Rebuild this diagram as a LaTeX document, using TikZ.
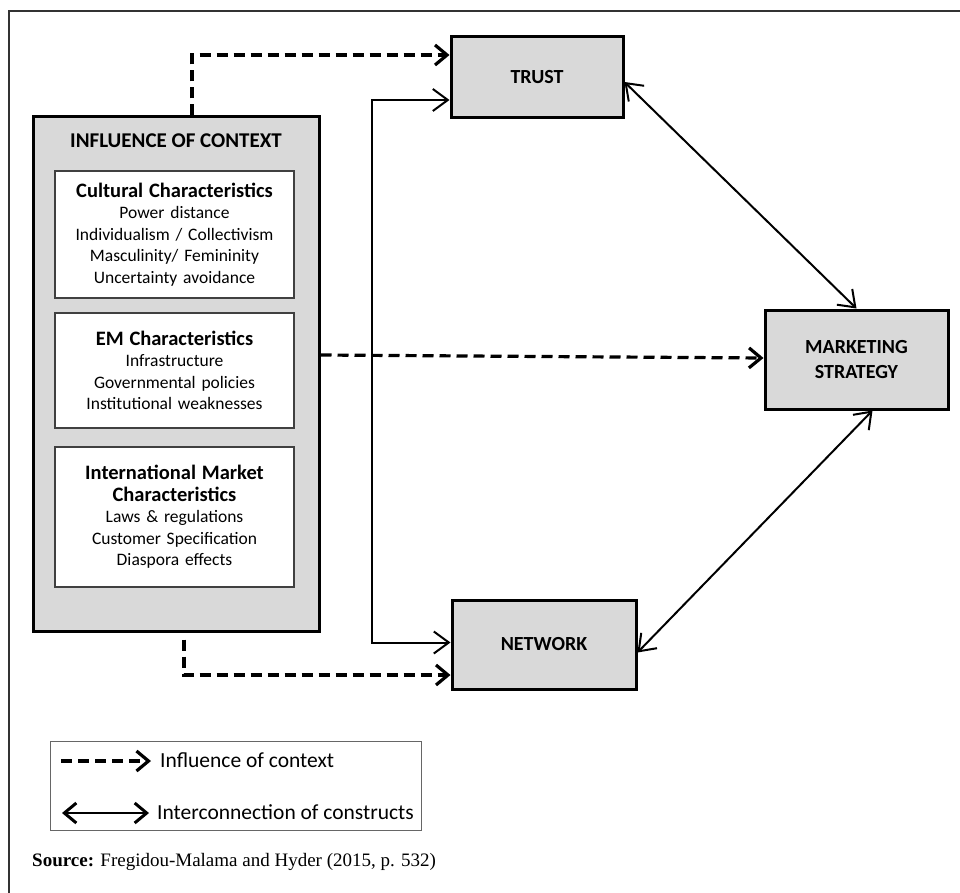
\documentclass[tikz,border=0pt]{standalone}
\usepackage{fontspec}
\setmainfont{Carlito}
\newfontfamily\srcfont{Liberation Serif}
\usetikzlibrary{arrows.meta}
\definecolor{boxgray}{HTML}{D9D9D9}
\definecolor{framegray}{HTML}{333333}

\begin{document}
\begin{tikzpicture}[x=1pt,y=-1pt,
  construct/.style={draw,line width=3pt,fill=boxgray,inner sep=0pt,align=center,font=\fontsize{20}{25}\selectfont\bfseries},
  inbox/.style={draw=black!75,line width=1.2pt,fill=white,inner sep=2pt,text width=235pt,align=center,font=\fontsize{17.5}{21.5}\selectfont},
  heading/.style={font=\fontsize{20.5}{24}\selectfont\bfseries},
  influence/.style={line width=3.2pt,dash pattern=on 11pt off 6pt,-{Straight Barb[length=12pt,width=20pt,line width=3.2pt]}},
  interlink/.style={line width=2pt,{Straight Barb[length=15pt,width=22pt,line width=2pt]}-{Straight Barb[length=15pt,width=22pt,line width=2pt]}},
  legendtext/.style={anchor=west,inner sep=0pt,font=\fontsize{21.5}{24}\selectfont}]
    \useasboundingbox (0,0) rectangle (960,893);
    \draw[framegray,line width=2.5pt] (960,11) -- (9,11) -- (9,893);
    % context box
    \node[construct,minimum width=286pt,minimum height=514pt] (ctx) at (176,374) {};
    \node[heading,font=\fontsize{21}{24}\selectfont\bfseries] (ctxtitle) at (176,141) {INFLUENCE OF CONTEXT};
    \node[inbox,minimum height=127pt] (cult) at (174.5,234.5) {{\fontsize{20.5}{22}\selectfont\bfseries Cultural Characteristics}\\ Power distance\\ Individualism / Collectivism\\ Masculinity/ Femininity\\ Uncertainty avoidance};
    \node[inbox,minimum height=115pt] (em) at (174.5,370.5) {{\fontsize{20.5}{22}\selectfont\bfseries EM Characteristics}\\ Infrastructure\\ Governmental policies\\ Institutional weaknesses\\[4pt]};
    \node[inbox,minimum height=140pt] (intl) at (174.5,517) {{\fontsize{20.5}{26}\selectfont\bfseries International Market\\ Characteristics}\\ Laws \& regulations\\ Customer Specification\\ Diaspora effects};
    % constructs
    \node[construct,minimum width=172pt,minimum height=81pt] (trust) at (537,77.5) {TRUST};
    \node[construct,minimum width=183pt,minimum height=99pt] (mkt) at (856.5,359.5) {MARKETING\\STRATEGY};
    \node[construct,minimum width=184pt,minimum height=89pt] (net) at (544,644.5) {NETWORK};
    \coordinate (bus) at (372,370);
    % influence of context
    \draw[influence] ([xshift=16pt]ctx.north) |- ([yshift=22.5pt]trust.west);
    \draw[influence] ([yshift=19pt]ctx.east) -- ([yshift=1.5pt]mkt.west);
    \draw[influence] ([xshift=8pt,yshift=-7pt]ctx.south) |- ([yshift=-30.5pt]net.west);
    % interconnections
    \draw[interlink] ([yshift=-22.5pt]trust.west) -| (bus) |- ([yshift=2pt]net.west);
    \draw[interlink] ([yshift=-4.5pt]trust.east) -- (mkt.north);
    \draw[interlink] ([xshift=16pt]mkt.south) -- ([yshift=-8pt]net.east);
    % legend
    \node[draw=black!60,line width=1pt,minimum width=371pt,minimum height=89pt] (legend) at (235.5,785.5) {};
    \coordinate (dashA) at (61,761);
    \coordinate (dashB) at (151,761);
    \coordinate (twoA) at (62,813);
    \coordinate (twoB) at (149,813);
    \draw[influence,line width=3.8pt] (dashA) -- (dashB);
    \draw[interlink,line width=2.8pt,{Straight Barb[length=12pt,width=20pt,line width=3pt]}-{Straight Barb[length=12pt,width=20pt,line width=3pt]}] (twoA) -- (twoB);
    \node[legendtext] (legdash) at (160,760) {Influence of context};
    \node[legendtext] (legtwo) at (157,812) {Interconnection of constructs};
    \node[anchor=west,inner sep=0pt,font=\srcfont\fontsize{19}{23}\selectfont] (src) at (32,862) {\textbf{Source:} Fregidou-Malama and Hyder (2015, p. 532)};
  \end{tikzpicture}
\end{document}
